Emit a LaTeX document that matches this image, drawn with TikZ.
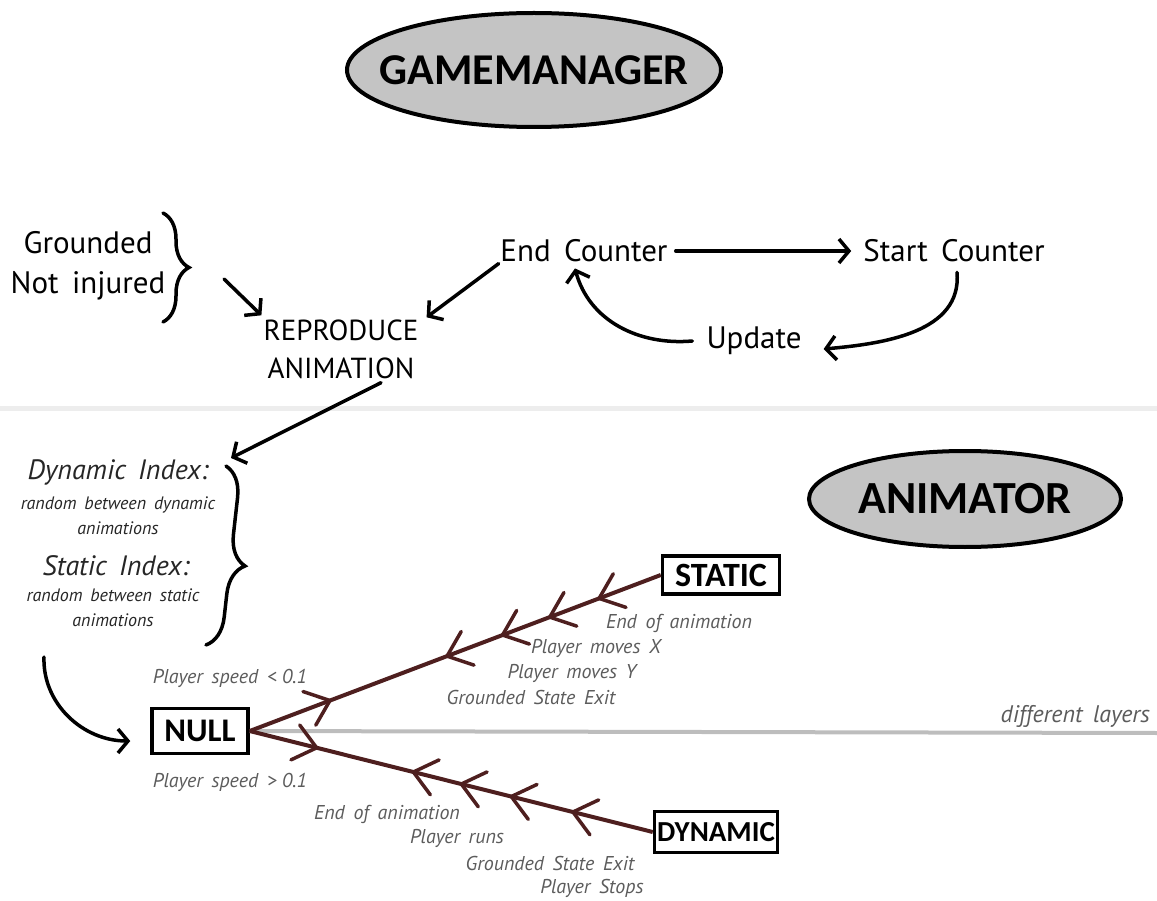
\documentclass[tikz,border=0pt]{standalone}
\usepackage{fontspec}
\setmainfont{PT Sans}
\newfontfamily\headfont{Carlito}
\usetikzlibrary{shapes.geometric,arrows.meta,decorations.pathreplacing,decorations.markings,calc}

\definecolor{ovalgray}{HTML}{C4C4C4}
\definecolor{wire}{HTML}{4E1F1F}
\definecolor{labelgray}{HTML}{5C5C5C}
\definecolor{inkgray}{HTML}{262626}
\definecolor{sepgray}{HTML}{EDEDED}
\definecolor{layergray}{HTML}{BDBDBD}

\tikzset{
  oval/.style={draw, line width=4pt, fill=ovalgray},
  title/.style={inner sep=0pt, font=\headfont\bfseries\fontsize{44}{48}\selectfont},
  statebox/.style={draw, line width=3.5pt, inner sep=2pt, fill=white,
    font=\headfont\bfseries\fontsize{#1}{#1}\selectfont},
  plain/.style={font=\fontsize{31}{40}\selectfont, align=center, inner sep=0pt},
  caps/.style={font=\fontsize{29}{38}\selectfont, align=center, inner sep=0pt},
  idxhead/.style={font=\itshape\fontsize{28}{34}\selectfont, text=inkgray, inner sep=0pt},
  idxsub/.style={font=\itshape\fontsize{18}{25}\selectfont, text=inkgray, align=center, inner sep=0pt},
  note/.style={font=\itshape\fontsize{20}{24}\selectfont, text=labelgray, inner sep=0pt},
  flow/.style={line width=3.5pt, line cap=round,
    -{Straight Barb[length=10pt,width=24pt,line width=3.5pt]}},
  bracket/.style={line width=3.5pt, line cap=round,
    decorate, decoration={brace, amplitude=#1}},
  transition/.style={line width=4pt, wire},
  chevron/.style={line width=3.5pt, wire, line cap=round, line join=miter},
  chevF/.style={postaction={decorate, decoration={markings,
    mark=at position #1 with {\draw[chevron] (-22pt,18pt)--(0pt,0pt)--(-22pt,-18pt);}}}},
  chevB/.style={postaction={decorate, decoration={markings,
    mark=at position #1 with {\draw[chevron] (22pt,18pt)--(0pt,0pt)--(22pt,-18pt);}}}},
}

\begin{document}
\begin{tikzpicture}[x=1pt,y=-1pt]
\useasboundingbox (0,0) rectangle (1157,901);

% section divider
\draw[sepgray, line width=5pt] (0,408) -- (1157,408);

% ---------- GameManager ----------
\coordinate (gmc) at (534,70);
\draw[oval] (gmc) ellipse [x radius=187pt, y radius=57pt];
\node[title] (gm) at (gmc) {GAMEMANAGER};

\node[plain] (grounded) at (88,266) {Grounded\\Not\, injured};
\draw[bracket=26pt] (163,213) -- (163,322);
\coordinate (gtip) at (224,279);

\node[caps] (rep) at (341,349) {REPRODUCE\\ANIMATION};

\node[plain] (endc) at (584,251) {End\, Counter};
\node[plain] (startc) at (954,251) {Start\, Counter};
\node[plain] (upd) at (754,341) {Update};

\draw[flow] (gtip) -- ($(rep.north west)+(-2,-4)$);
\draw[flow, shorten <=2pt] (endc.south west) -- ($(rep.north east)+(8,-2)$);
\draw[flow, shorten <=8pt, shorten >=12pt] (endc) -- (startc);
\draw[flow] ($(startc.south)+(3,10)$) to[out=-85, in=5] ($(upd.east)+(22,8)$);
\draw[flow] ($(upd.west)+(-14,0)$) to[out=185, in=-75] ($(endc.south)+(-9,6)$);

% ---------- index choice ----------
\node[idxhead] (dyn) at (118,472) {Dynamic\, Index:};
\node[idxsub] (dynsub) at (118,516) {random\, between\, dynamic\\animations};
\node[idxhead] (stat) at (116,566) {Static\, Index:};
\node[idxsub] (statsub) at (113,608) {random\, between\, static\\animations};
\draw[bracket=30pt, decoration={aspect=0.54}] (226,466) -- (206,645);
\coordinate (btop) at (231,458);
\draw[flow] ($(rep.south)+(40,4)$) -- (btop);

% ---------- Animator ----------
\coordinate (anc) at (965,499);
\draw[oval] (anc) ellipse [x radius=156pt, y radius=48pt];
\node[title, font=\headfont\bfseries\fontsize{46}{50}\selectfont] (anim) at (anc) {ANIMATOR};

\node[statebox=33, minimum width=96pt, minimum height=45pt] (null) at (200,731) {NULL};
\node[statebox=34, minimum width=117pt, minimum height=38pt] (static) at (721,575) {STATIC};
\node[statebox=29, minimum width=123pt, minimum height=41pt] (dynamic) at (716,832) {DYNAMIC};

\coordinate (cstart) at (44,657);
\draw[flow] (cstart) to[out=-92, in=180] ($(null.west)+(-20,10)$);

% layer separator
\coordinate (layerend) at (1157,733);
\draw[layergray, line width=4pt] (null.east) -- (layerend);
\node[note, anchor=east, font=\itshape\fontsize{24}{28}\selectfont] (layers) at (1150,716) {different\, layers};

% transitions
\draw[transition, chevF=0.15, chevF=0.27, chevF=0.385, chevF=0.52, chevB=0.805]
  (static.west) -- (null.east);
\draw[transition, chevF=0.198, chevF=0.351, chevF=0.475, chevF=0.594, chevB=0.834]
  (dynamic.west) -- (null.east);

% transition conditions
\node[note] (lt) at (230,678) {Player\, speed\, < 0.1};
\node[note] (gt) at (230,782) {Player\, speed\, > 0.1};

\node[note] (s1) at (679,623) {End\, of\, animation};
\node[note] (s2) at (596,648) {Player\, moves\, X};
\node[note] (s3) at (572,673) {Player\, moves\, Y};
\node[note] (s4) at (531,697) {Grounded\, State\, Exit};

\node[note] (d1) at (387,814) {End\, of\, animation};
\node[note] (d2) at (457,838) {Player\, runs};
\node[note] (d3) at (550,863) {Grounded\, State\, Exit};
\node[note] (d4) at (592,888) {Player\, Stops};
\end{tikzpicture}
\end{document}
